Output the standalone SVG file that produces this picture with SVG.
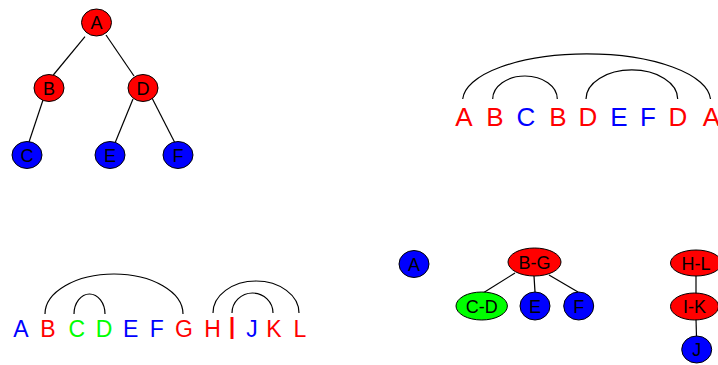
<svg xmlns="http://www.w3.org/2000/svg" width="718" height="365" viewBox="0 0 718 365">
<style>
.n{stroke:#000;stroke-width:1}
.r{fill:#ff0000}.b{fill:#0000ff}.g{fill:#00ff00}
.lbl{font-family:"Liberation Sans",Arial,sans-serif;font-size:18px;fill:#000;text-anchor:middle}
.e{stroke:#000;stroke-width:1.2;fill:none}
.t1{font-family:"Liberation Sans",Arial,sans-serif;font-size:26px;text-anchor:middle}
.t2{font-family:"Liberation Sans",Arial,sans-serif;font-size:23px;text-anchor:middle}
.tr{fill:#ff0000}.tb{fill:#0000ff}.tg{fill:#00ff00}
</style>
<rect width="718" height="365" fill="#fff"/>
<g id="connectors">
<line class="e" x1="85" y1="36.7" x2="53.3" y2="75"/>
<line class="e" x1="106" y1="35" x2="134" y2="76"/>
<line class="e" x1="43" y1="100" x2="29" y2="142"/>
<line class="e" x1="133" y1="99" x2="115" y2="143"/>
<line class="e" x1="152" y1="98" x2="175" y2="143"/>
<line class="e" x1="515" y1="273" x2="483" y2="293"/>
<line class="e" x1="534" y1="276" x2="535" y2="292"/>
<line class="e" x1="549" y1="275" x2="578" y2="292"/>
<line class="e" x1="696" y1="275" x2="696" y2="294"/>
<line class="e" x1="696" y1="319" x2="696.5" y2="337"/>
<path class="e" d="M462.7 99 A124 47 0 0 1 710.5 99"/>
<path class="e" d="M492.7 99 A32.3 23 0 0 1 557.3 99"/>
<path class="e" d="M586 99 A45.8 29 0 0 1 677.7 99"/>
<path class="e" d="M45 314 A69 40 0 0 1 183 314"/>
<path class="e" d="M74 314 A15.5 20 0 0 1 105 314"/>
<path class="e" d="M213 313 A43 32 0 0 1 299 313"/>
<path class="e" d="M232 313 A20.5 20 0 0 1 273 313"/>
</g>
<g id="t1A"><ellipse class="n r" cx="96.5" cy="22.5" rx="15" ry="13.5"/><text class="lbl" x="96.5" y="29">A</text></g>
<g id="t1B"><ellipse class="n r" cx="49" cy="88" rx="15" ry="13.5"/><text class="lbl" x="49" y="94.5">B</text></g>
<g id="t1D"><ellipse class="n r" cx="143" cy="88" rx="15" ry="13.5"/><text class="lbl" x="143" y="94.5">D</text></g>
<g id="t1C"><ellipse class="n b" cx="27" cy="155" rx="15" ry="13.5"/><text class="lbl" x="27" y="161.5">C</text></g>
<g id="t1E"><ellipse class="n b" cx="110" cy="155" rx="15" ry="13.5"/><text class="lbl" x="110" y="161.5">E</text></g>
<g id="t1F"><ellipse class="n b" cx="178" cy="155" rx="15" ry="13.5"/><text class="lbl" x="178" y="161.5">F</text></g>
<g id="seq1">
<text class="t1 tr" x="464" y="126">A</text>
<text class="t1 tr" x="495" y="126">B</text>
<text class="t1 tb" x="526" y="126">C</text>
<text class="t1 tr" x="558" y="126">B</text>
<text class="t1 tr" x="588" y="126">D</text>
<text class="t1 tb" x="619" y="126">E</text>
<text class="t1 tb" x="648" y="126">F</text>
<text class="t1 tr" x="678" y="126">D</text>
<text class="t1 tr" x="711.5" y="126">A</text>
</g>
<g id="seq2">
<text class="t2 tb" x="21" y="336.5">A</text>
<text class="t2 tr" x="48" y="336.5">B</text>
<text class="t2 tg" x="76.7" y="336.5">C</text>
<text class="t2 tg" x="104" y="336.5">D</text>
<text class="t2 tb" x="130.7" y="336.5">E</text>
<text class="t2 tb" x="156.7" y="336.5">F</text>
<text class="t2 tr" x="184" y="336.5">G</text>
<text class="t2 tr" x="212.5" y="336.5">H</text>
<text class="t2 tr" x="232" y="339" style="font-size:31px">I</text>
<text class="t2 tb" x="252" y="336.5">J</text>
<text class="t2 tr" x="274" y="336.5">K</text>
<text class="t2 tr" x="300" y="336.5">L</text>
</g>
<g id="bA"><ellipse class="n b" cx="414" cy="264" rx="15" ry="13.5"/><text class="lbl" x="414" y="270.5">A</text></g>
<g id="bBG"><ellipse class="n r" cx="534.5" cy="262" rx="26.5" ry="14"/><text class="lbl" x="534.5" y="268.5">B-G</text></g>
<g id="bCD"><ellipse class="n g" cx="481.7" cy="306" rx="25.7" ry="14"/><text class="lbl" x="481.7" y="312.5">C-D</text></g>
<g id="bE"><ellipse class="n b" cx="535" cy="306" rx="15" ry="14"/><text class="lbl" x="535" y="312.5">E</text></g>
<g id="bF"><ellipse class="n b" cx="578.7" cy="306" rx="15" ry="14"/><text class="lbl" x="578.7" y="312.5">F</text></g>
<g id="bHL"><ellipse class="n r" cx="696" cy="263" rx="25.5" ry="13"/><text class="lbl" x="696" y="269.5">H-L</text></g>
<g id="bIK"><ellipse class="n r" cx="694.5" cy="306.5" rx="24" ry="13.5"/><text class="lbl" x="694.5" y="313">I-K</text></g>
<g id="bJ"><ellipse class="n b" cx="696.7" cy="349.5" rx="15" ry="13.5"/><text class="lbl" x="696.7" y="356">J</text></g>
</svg>
